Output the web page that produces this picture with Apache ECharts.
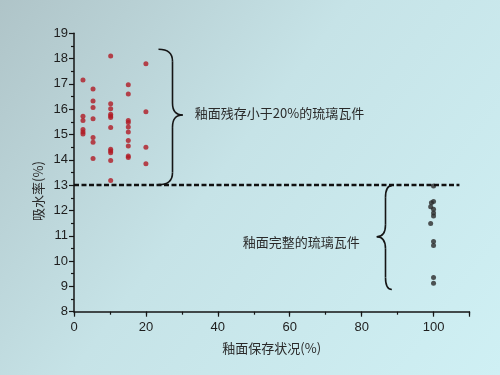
<!DOCTYPE html>
<html>
<head>
<meta charset="utf-8">
<script src="https://cdn.jsdelivr.net/npm/echarts@6/dist/echarts.min.js"></script>
<style>html,body{margin:0;padding:0;}#c{width:500px;height:375px;}</style>
</head>
<body>
<div id="c"></div>
<script>
// 釉面残存小于20%的琉璃瓦件 [釉面保存状况, 吸水率]
var partialGlaze = [
  [2.5,17.15],[2.5,15.72],[2.5,15.55],[2.5,15.2],[2.5,15.1],[2.5,15.02],
  [5.3,16.8],[5.3,16.33],[5.3,16.07],[5.3,15.62],[5.3,14.88],[5.3,14.7],[5.3,14.05],
  [10.2,18.1],[10.2,16.22],[10.2,16.02],[10.2,15.8],[10.2,15.73],[10.2,15.67],[10.2,15.28],
  [10.2,14.42],[10.2,14.35],[10.2,14.28],[10.2,13.97],[10.2,13.18],
  [15.1,16.97],[15.1,16.6],[15.1,15.55],[15.1,15.48],[15.1,15.3],[15.1,15.1],[15.1,14.76],
  [15.1,14.55],[15.1,14.15],[15.1,14.09],
  [20,17.8],[20,15.9],[20,14.5],[20,13.85]
];
// 釉面完整的琉璃瓦件
var fullGlaze = [
  [100,12.97],[100,12.35],[99.4,12.3],[99.2,12.15],[100,12.05],[100,11.9],[100,11.78],
  [99.2,11.48],[100,10.77],[100,10.62],[100,9.35],[100,9.12]
];
var threshold = 13;
var xTicks = [0,20,40,60,80,100];
var yTicks = [8,9,10,11,12,13,14,15,16,17,18,19];
var label1 = '釉面残存小于20%的琉璃瓦件';
var label2 = '釉面完整的琉璃瓦件';
var xName = '釉面保存状况(%)';
var yName = '吸水率(%)';

var chart = echarts.init(document.getElementById('c'));
var axisCol = '#151515';
var font = 'Liberation Sans, Arial, sans-serif';
var cjk = '"Noto Sans CJK SC", sans-serif';

chart.setOption({
  backgroundColor: {
    type: 'linear', x: 0, y: 0, x2: 1, y2: 1,
    colorStops: [
      {offset: 0, color: '#afc4c8'},
      {offset: 0.45, color: '#c6e3e7'},
      {offset: 1, color: '#cff0f4'}
    ]
  },
  animation: false,
  grid: {left: 74, right: 30.5, top: 33.3, bottom: 63.3},
  xAxis: [
    {
      type: 'value', min: 0, max: 110, interval: 10, position: 'bottom',
      axisLine: {lineStyle: {color: axisCol, width: 1.5}},
      axisTick: {length: 3, lineStyle: {color: axisCol, width: 1.2}},
      axisLabel: {show: false},
      splitLine: {show: false}
    },
    {
      type: 'value', min: 0, max: 110, interval: 20, position: 'bottom',
      axisLine: {show: false},
      axisTick: {length: 5, lineStyle: {color: axisCol, width: 1.2}},
      axisLabel: {
        color: '#1e1e1e', fontSize: 13, fontFamily: font, margin: 9,
        formatter: function (v) { return xTicks.indexOf(v) >= 0 ? String(v) : ''; }
      },
      splitLine: {show: false},
      name: xName, nameLocation: 'middle', nameGap: 30,
      nameTextStyle: {color: '#2a2a2a', fontSize: 13, fontFamily: cjk}
    }
  ],
  yAxis: {
    type: 'value', min: 8, max: 19, interval: 1,
    axisLine: {show: true, lineStyle: {color: axisCol, width: 1.5}},
    axisTick: {show: true, length: 5, lineStyle: {color: axisCol, width: 1.2}},
    minorTick: {show: true, splitNumber: 2, length: 3, lineStyle: {color: axisCol, width: 1.2}},
    axisLabel: {
      color: '#1e1e1e', fontSize: 13, fontFamily: font, margin: 6,
      formatter: function (v) { return yTicks.indexOf(v) >= 0 ? String(v) : ''; }
    },
    splitLine: {show: false}
  },
  series: [
    {
      type: 'scatter', data: partialGlaze, symbolSize: 5,
      itemStyle: {color: '#b01a24'},
      markLine: {
        silent: true, symbol: 'none', label: {show: false},
        lineStyle: {color: '#111', width: 2.4, type: [5, 2.5]},
        data: [[{coord: [0, threshold]}, {coord: [107.2, threshold]}]]
      }
    },
    {
      type: 'scatter', data: fullGlaze, symbolSize: 5,
      itemStyle: {color: '#2b2b2b'}
    }
  ]
});

function px(x, y) { return chart.convertToPixel({seriesIndex: 0}, [x, y]); }
var braceStyle = {fill: 'none', stroke: '#151515', lineWidth: 1.6};
function q(x1, y1, cx, cy, x2, y2) {
  return {type: 'bezierCurve', shape: {x1: x1, y1: y1, cpx1: cx, cpy1: cy, x2: x2, y2: y2}, style: braceStyle};
}
function ln(x1, y1, x2, y2) {
  return {type: 'line', shape: {x1: x1, y1: y1, x2: x2, y2: y2}, style: braceStyle};
}
function brace(endX, stemX, tipX, yTop, yTip, yBot) {
  var a = px(endX, yTop), s = px(stemX, yTop), t = px(tipX, yTip), b = px(endX, yBot);
  var sx = Math.round(s[0]) + 0.5, ex = a[0], tx = t[0];
  var yT = a[1], yM = t[1], yB = b[1];
  var r = 12;
  return [
    q(ex, yT, sx, yT, sx, yT + r),
    ln(sx, yT + r, sx, yM - r),
    q(sx, yM - r, sx, yM, tx, yM),
    q(tx, yM, sx, yM, sx, yM + r),
    ln(sx, yM + r, sx, yB - r),
    q(sx, yB - r, sx, yB, ex, yB)
  ];
}
var t1 = px(30.25, 15.77), t2 = px(84.2, 10.96);
var els = [].concat(
  brace(23.5, 27.2, 30.25, 18.37, 15.77, 13.02),
  brace(88.4, 86.6, 84.2, 12.98, 10.96, 8.88),
  [
    {type: 'text', x: t1[0] + 12, y: t1[1] - 2,
     style: {text: label1, fill: '#2a2a2a', fontSize: 13, fontFamily: cjk, textVerticalAlign: 'middle', textAlign: 'left'}},
    {type: 'text', x: t2[0] - 17, y: t2[1] + 5,
     style: {text: label2, fill: '#2a2a2a', fontSize: 13, fontFamily: cjk, textVerticalAlign: 'middle', textAlign: 'right'}},
    {type: 'text', x: 38, y: 191, rotation: Math.PI / 2,
     style: {text: yName, fill: '#2a2a2a', fontSize: 13, fontFamily: cjk, textVerticalAlign: 'middle', textAlign: 'center'}}
  ]
);
chart.setOption({graphic: els});
</script>
</body>
</html>
